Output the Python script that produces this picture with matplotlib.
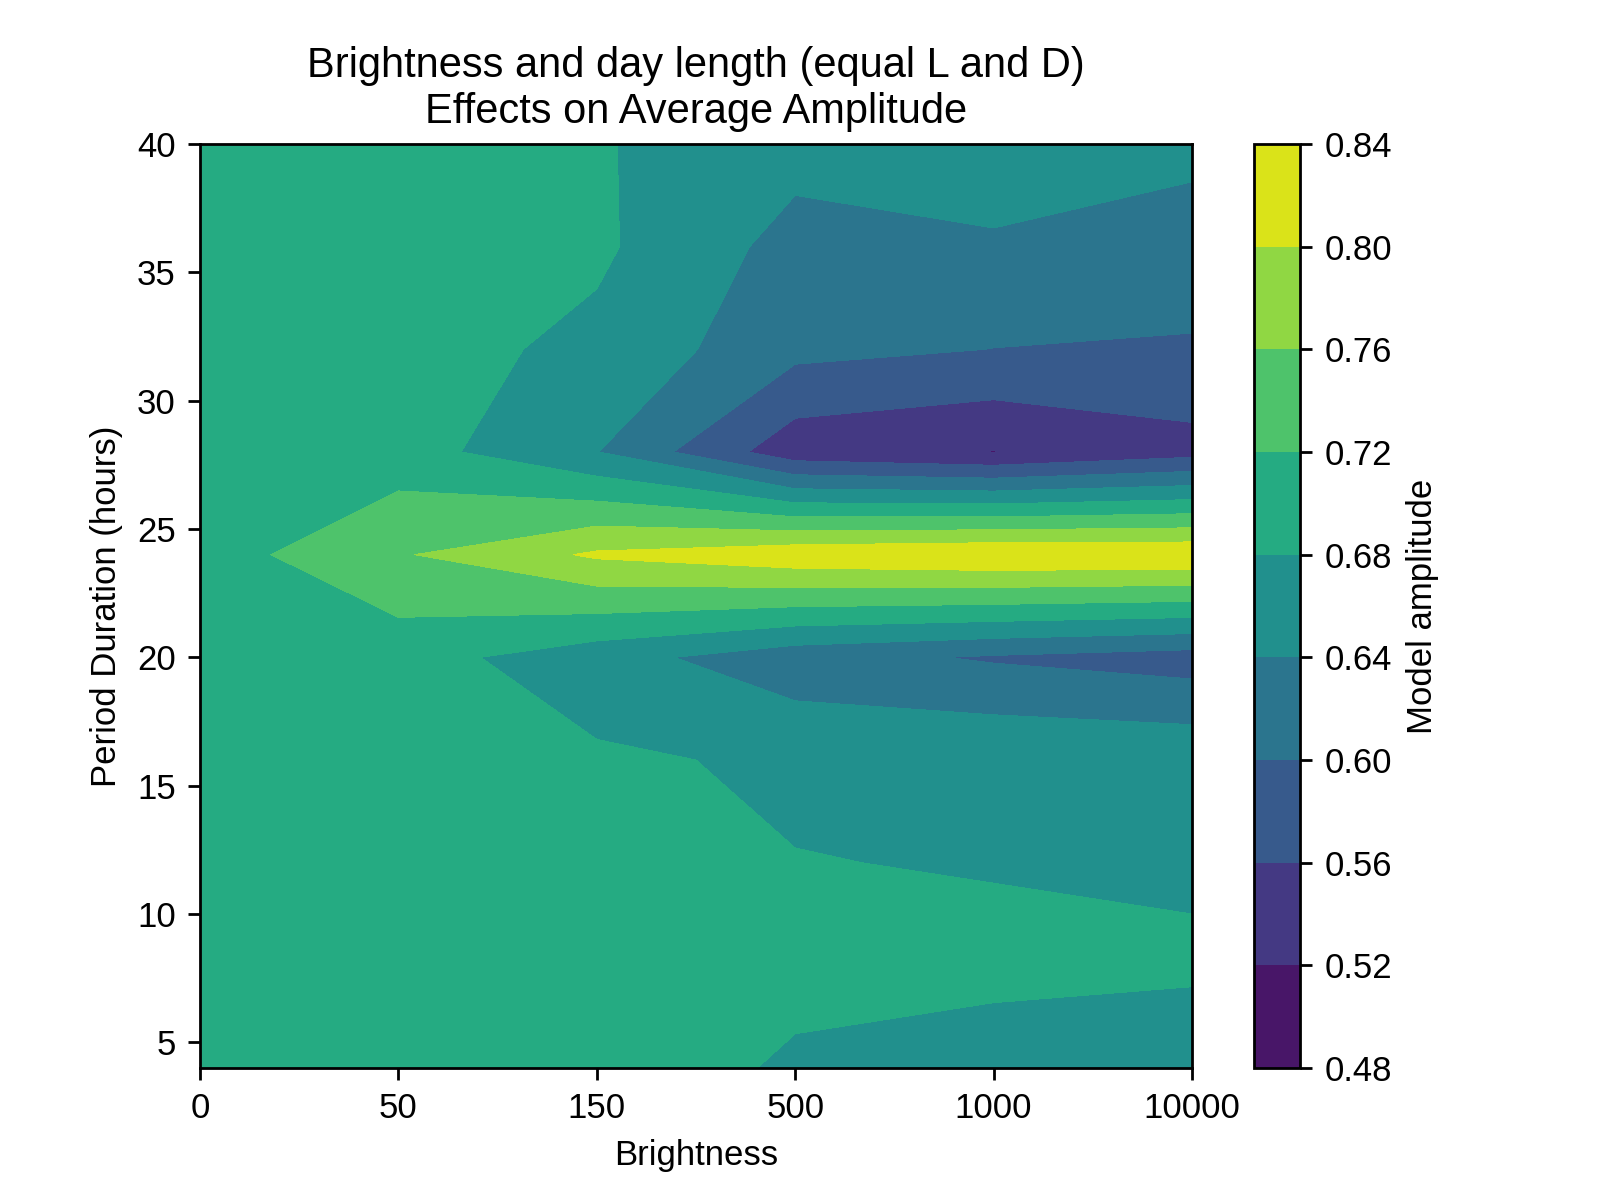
#Contour plot of model amplitude vs brightness and period duration

import matplotlib.pyplot as plt
import numpy as np

plt.rcParams['font.family'] = ['Liberation Sans', 'DejaVu Sans']

brightness = ['0', '50', '150', '500', '1000', '10000']
periods = [4, 8, 12, 16, 20, 24, 28, 32, 36, 40]

#amplitude per brightness level, one value per period (4..40 hours)
amp_0 = [0.700, 0.700, 0.700, 0.700, 0.700, 0.700, 0.700, 0.700, 0.700, 0.700]
amp_50 = [0.700, 0.700, 0.700, 0.700, 0.697, 0.756, 0.698, 0.697, 0.695, 0.695]
amp_150 = [0.697, 0.695, 0.690, 0.686, 0.656, 0.806, 0.641, 0.670, 0.687, 0.683]
amp_500 = [0.676, 0.688, 0.681, 0.674, 0.615, 0.828, 0.535, 0.611, 0.626, 0.654]
amp_1000 = [0.666, 0.688, 0.678, 0.675, 0.5955, 0.837, 0.519, 0.5995, 0.634, 0.667]
amp_10000 = [0.661, 0.685, 0.675, 0.671, 0.581, 0.836, 0.545, 0.597, 0.616, 0.654]

Z = np.column_stack([amp_0, amp_50, amp_150, amp_500, amp_1000, amp_10000])
X, Y = np.meshgrid(np.arange(len(brightness)), periods)

plt.figure(figsize=(6.4, 4.8), dpi=250)
cs = plt.contourf(X, Y, Z, levels=np.linspace(0.48, 0.84, 10), cmap='viridis')
cbar = plt.colorbar(cs)
cbar.set_label("Model amplitude")
plt.xticks(np.arange(len(brightness)), brightness)
plt.xlabel("Brightness")
plt.ylabel("Period Duration (hours)")
plt.title("Brightness and day length (equal L and D)\nEffects on Average Amplitude")
plt.savefig("out.png", dpi=250)
